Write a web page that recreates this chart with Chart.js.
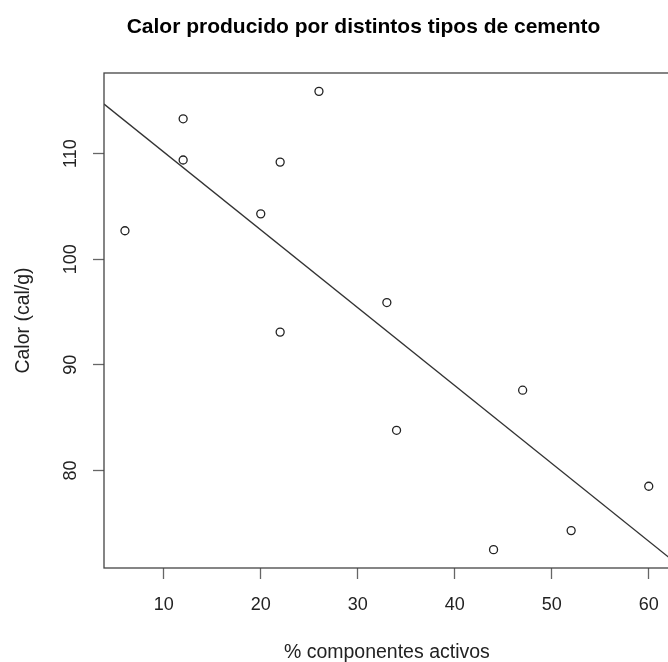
<!DOCTYPE html>
<html>
<head>
<meta charset="utf-8">
<script src="https://cdn.jsdelivr.net/npm/chart.js@4/dist/chart.umd.min.js"></script>
<style>
  html, body { margin: 0; padding: 0; background: #fff; overflow: hidden; }
  canvas { display: block; }
</style>
</head>
<body>
<canvas id="chart" width="675" height="662"></canvas>
<script>
// % componentes activos vs calor (cal/g)
const pctActivos = [60, 52, 20, 47, 33, 22, 6, 44, 22, 26, 34, 12, 12];
const calor = [78.5, 74.3, 104.3, 87.6, 95.9, 109.2, 102.7, 72.5, 93.1, 115.9, 83.8, 113.3, 109.4];

// fitted line, read at the two edges of the plot
const lineX = [3.84, 62.16];
const lineY = [114.7, 71.7];

const xTicks = [10, 20, 30, 40, 50, 60];
const yTicks = [80, 90, 100, 110];
const xRange = [3.84, 62.16];
const yRange = [70.76, 117.64];

const FONT = "'Liberation Sans', Arial, sans-serif";
const TITLE = "Calor producido por distintos tipos de cemento";

const boxPlugin = {
  id: "box",
  afterDraw(chart) {
    const { ctx, chartArea: a } = chart;
    ctx.save();
    ctx.strokeStyle = "#444";
    ctx.lineWidth = 1.3;
    ctx.strokeRect(a.left, a.top, a.right - a.left, a.bottom - a.top);
    // title
    ctx.fillStyle = "#000";
    ctx.font = "bold 21px " + FONT;
    ctx.textAlign = "center";
    ctx.textBaseline = "alphabetic";
    ctx.fillText(TITLE, 363.5, 33);
    ctx.restore();
  },
};

new Chart(document.getElementById("chart"), {
  type: "scatter",
  data: {
    datasets: [
      {
        data: pctActivos.map((x, i) => ({ x, y: calor[i] })),
        pointStyle: "circle",
        pointRadius: 4,
        pointBorderWidth: 1.3,
        pointBorderColor: "#222",
        pointBackgroundColor: "rgba(0,0,0,0)",
      },
      {
        type: "line",
        data: lineX.map((x, i) => ({ x, y: lineY[i] })),
        borderColor: "#333",
        borderWidth: 1.4,
        pointRadius: 0,
        fill: false,
      },
    ],
  },
  options: {
    responsive: false,
    animation: false,
    layout: { padding: { left: 0, right: 2, top: 73, bottom: 0 } },
    plugins: {
      legend: { display: false },
      tooltip: { enabled: false },
    },
    scales: {
      x: {
        type: "linear",
        min: xRange[0],
        max: xRange[1],
        afterBuildTicks: (s) => { s.ticks = xTicks.map((v) => ({ value: v })); },
        afterFit: (s) => { s.height = 94; },
        grid: { display: true, drawOnChartArea: false, tickLength: 11, color: "#666", tickWidth: 1.3 },
        border: { display: false },
        ticks: { color: "#222", font: { family: FONT, size: 18 }, padding: 15, maxRotation: 0 },
        title: {
          display: true,
          text: "% componentes activos",
          color: "#222",
          font: { family: FONT, size: 19.5 },
          padding: { top: 0, bottom: -2 },
        },
      },
      y: {
        type: "linear",
        min: yRange[0],
        max: yRange[1],
        afterBuildTicks: (s) => { s.ticks = yTicks.map((v) => ({ value: v })); },
        afterFit: (s) => { s.width = 104; },
        grid: { display: true, drawOnChartArea: false, tickLength: 11, color: "#666", tickWidth: 1.3 },
        border: { display: false },
        ticks: {
          color: "#222",
          font: { family: FONT, size: 18 },
          padding: 7,
          minRotation: 90,
          maxRotation: 90,
          crossAlign: "center",
        },
        title: {
          display: true,
          text: "Calor (cal/g)",
          color: "#222",
          font: { family: FONT, size: 19.5 },
          padding: { top: 12, bottom: 0 },
        },
      },
    },
  },
  plugins: [boxPlugin],
});
</script>
</body>
</html>
